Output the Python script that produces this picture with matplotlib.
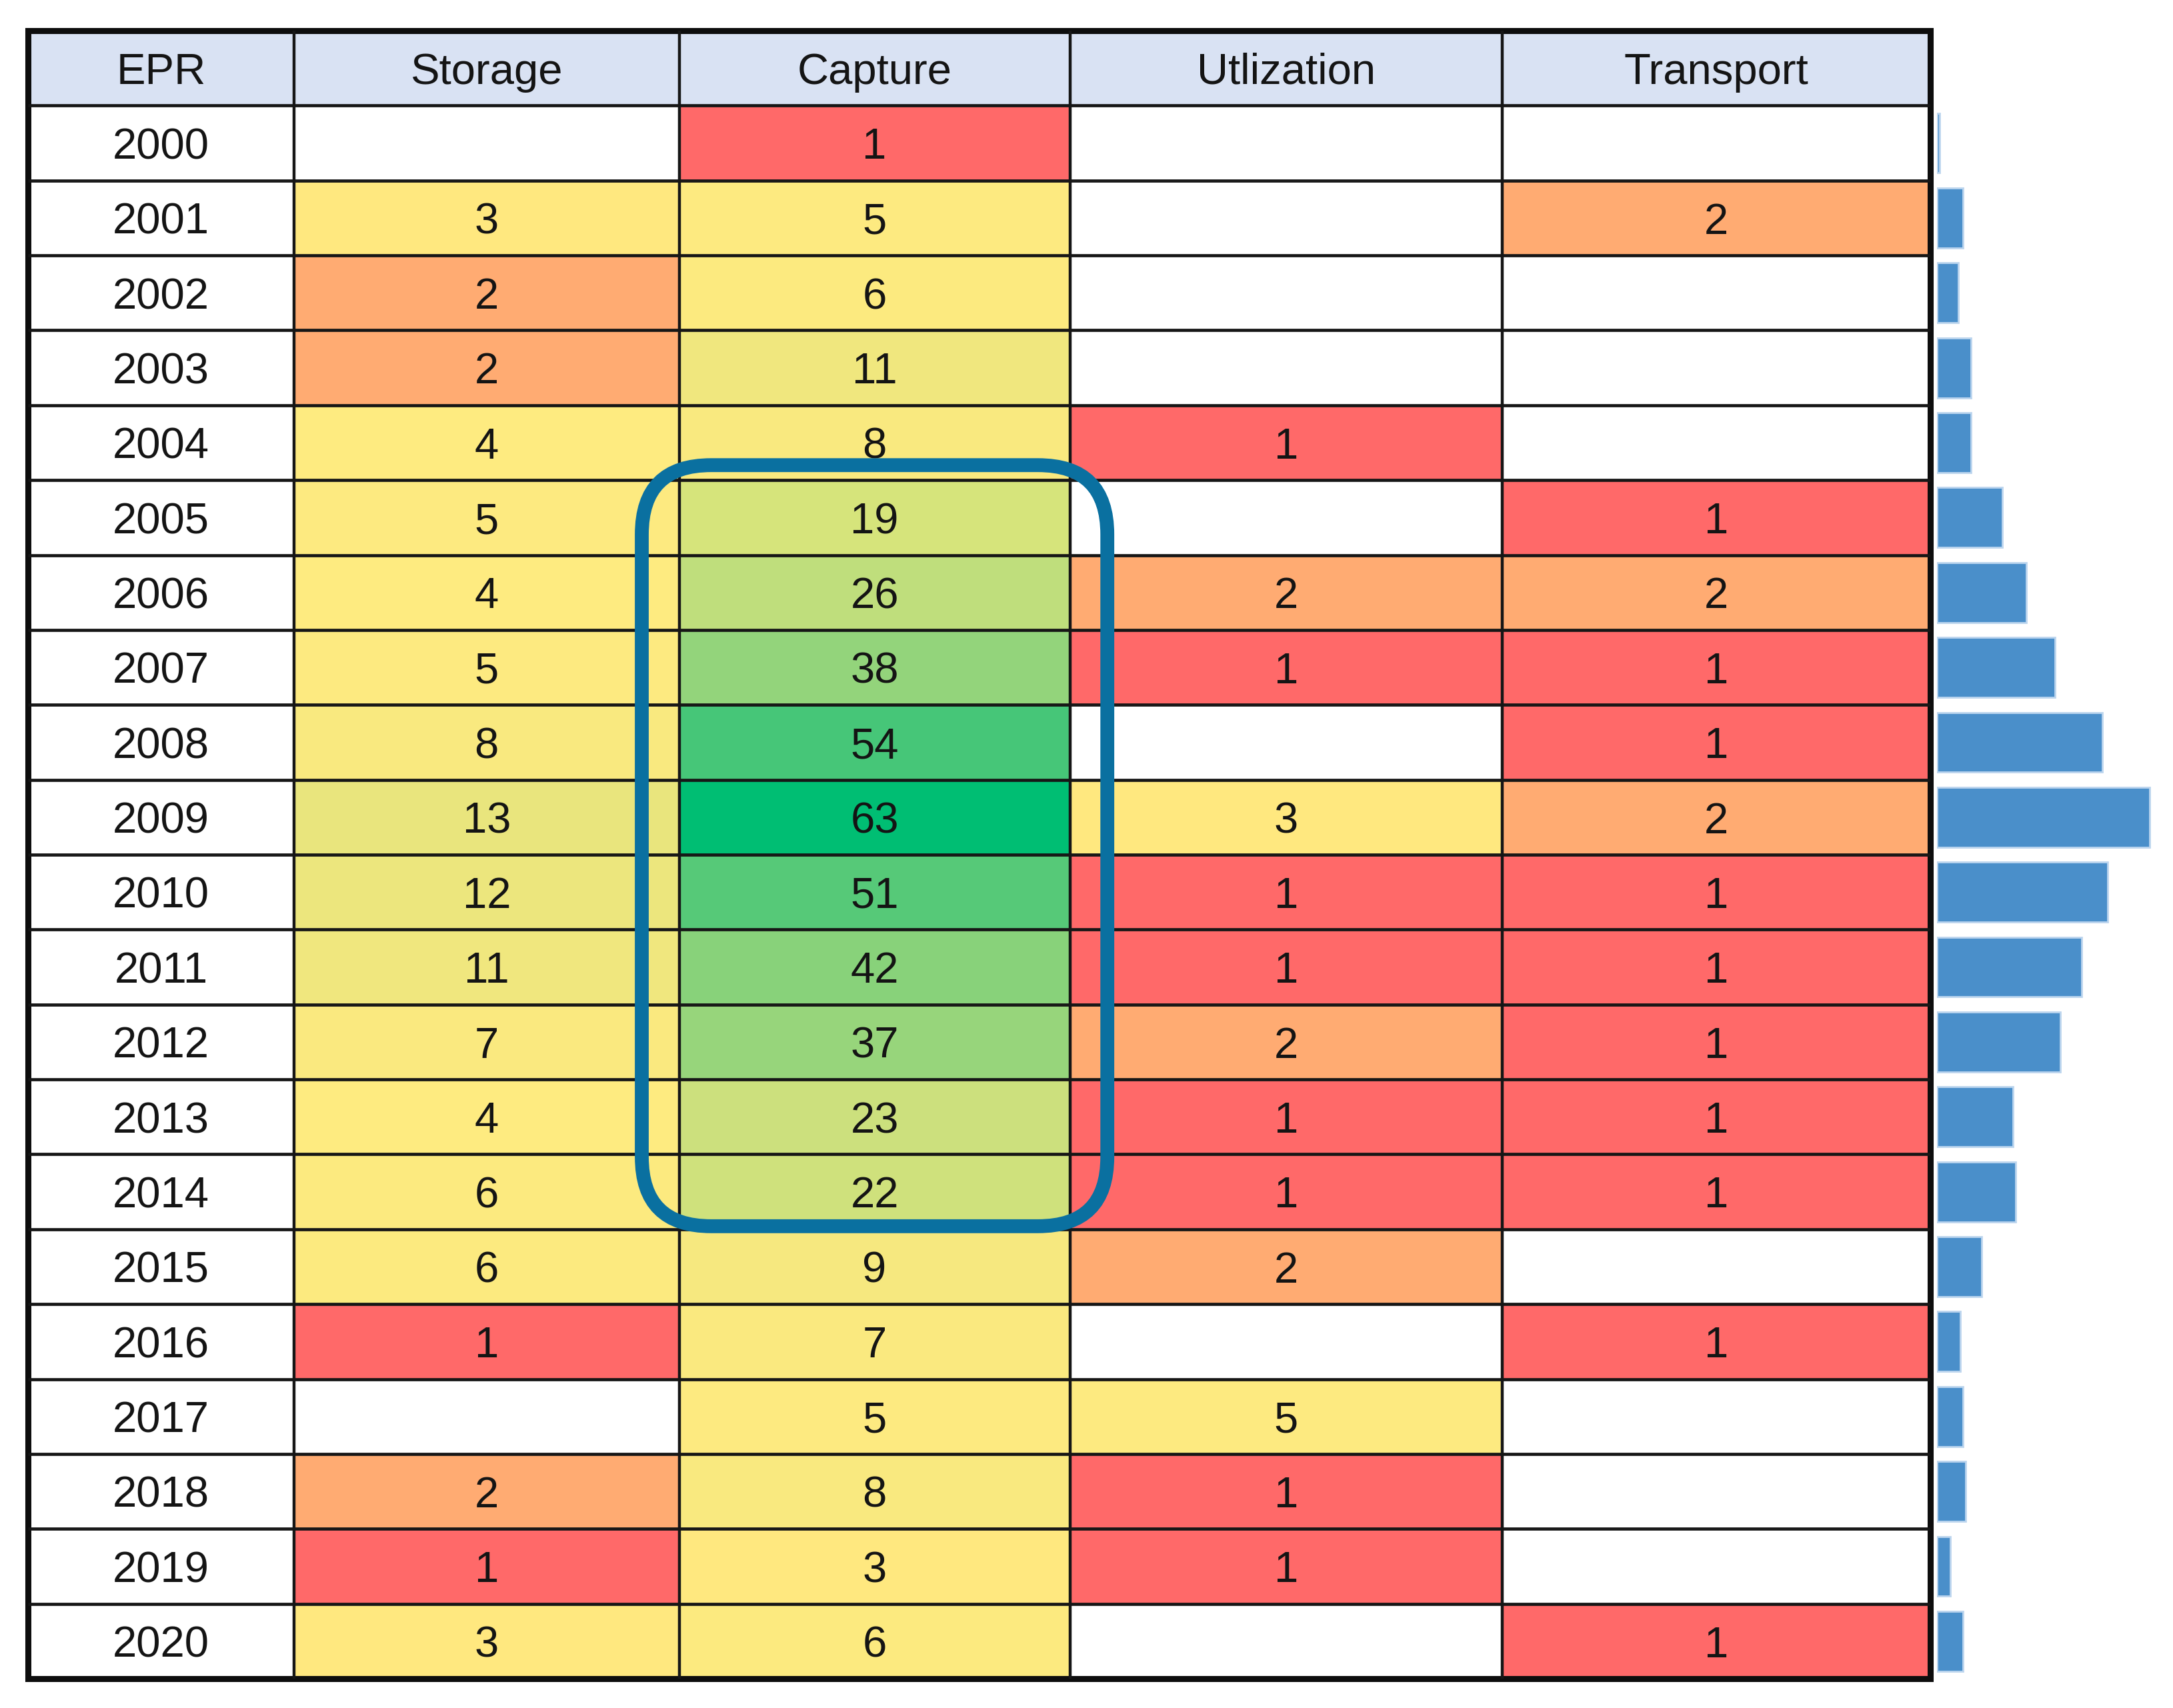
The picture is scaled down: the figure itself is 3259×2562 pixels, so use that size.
import matplotlib
matplotlib.use("Agg")
import matplotlib.pyplot as plt
from matplotlib.colors import LinearSegmentedColormap, Normalize
from matplotlib.patches import Rectangle, FancyBboxPatch

years = list(range(2000, 2021))
headers = ["EPR", "Storage", "Capture", "Utlization", "Transport"]

storage = [None, 3, 2, 2, 4, 5, 4, 5, 8, 13, 12, 11, 7, 4, 6, 6, 1, None, 2, 1, 3]
capture = [1, 5, 6, 11, 8, 19, 26, 38, 54, 63, 51, 42, 37, 23, 22, 9, 7, 5, 8, 3, 6]
utilization = [None, None, None, None, 1, None, 2, 1, None, 3, 1, 1, 2, 1, 1, 2, None, 5, 1, 1, None]
transport = [None, 2, None, None, None, 1, 2, 1, 1, 2, 1, 1, 1, 1, 1, None, 1, None, None, None, 1]

columns = [storage, capture, utilization, transport]
totals = [sum(v or 0 for v in row) for row in zip(*columns)]

plt.rcParams['font.family'] = ['Liberation Sans', 'DejaVu Sans']

# colour scale like the spreadsheet's red-yellow-green rule
vmin, vmax = 1, 63
nodes = [(1, '#FF6969'), (2, '#FFAD72'), (3, '#FFEB80'), (8, '#F9E97F'),
         (13, '#E9E57D'), (19, '#D6E47B'), (23, '#CCE07D'), (26, '#BFDE7C'),
         (38, '#93D47B'), (42, '#88D27A'), (54, '#46C678'), (63, '#00BE73')]
cmap = LinearSegmentedColormap.from_list(
    'ryg', [((v - vmin) / (vmax - vmin), c) for v, c in nodes])
norm = Normalize(vmin, vmax)

W, H = 3259, 2562
fig = plt.figure(figsize=(W / 100, H / 100), dpi=100)
tab_left, tab_right, tab_top, tab_bottom = 42, 2895, 46, 2518
ax = fig.add_axes([tab_left / W, 1 - tab_bottom / H,
                   (tab_right - tab_left) / W, (tab_bottom - tab_top) / H])

col_edges = [0, 192, 470, 752, 1064, 1373]
n_rows = len(years) + 1
ax.set_xlim(col_edges[0], col_edges[-1])
ax.set_ylim(n_rows, 0)
ax.axis('off')

text_kw = dict(ha='center', va='center', fontsize=47, color='#141414')

for c, name in enumerate(headers):
    x0, x1 = col_edges[c], col_edges[c + 1]
    ax.add_patch(Rectangle((x0, 0), x1 - x0, 1, facecolor='#D9E2F3', edgecolor='none'))
    ax.text((x0 + x1) / 2, 0.56, name, **text_kw)

for r, year in enumerate(years, start=1):
    x0, x1 = col_edges[0], col_edges[1]
    ax.add_patch(Rectangle((x0, r), x1 - x0, 1, facecolor='white', edgecolor='none'))
    ax.text((x0 + x1) / 2, r + 0.56, str(year), **text_kw)
    for c, col in enumerate(columns, start=1):
        v = col[r - 1]
        x0, x1 = col_edges[c], col_edges[c + 1]
        fc = 'white' if v is None else cmap(norm(v))
        ax.add_patch(Rectangle((x0, r), x1 - x0, 1, facecolor=fc, edgecolor='none'))
        if v is not None:
            ax.text((x0 + x1) / 2, r + 0.56, str(v), **text_kw)

ax.hlines(range(1, n_rows), col_edges[0], col_edges[-1], color='#161616', lw=3.4)
ax.vlines(col_edges[1:-1], 0, n_rows, color='#161616', lw=3.2)
ax.add_patch(Rectangle((col_edges[0], 0), col_edges[-1] - col_edges[0], n_rows,
                       facecolor='none', edgecolor='#0d0d0d', lw=6.5, clip_on=False))

# highlight around the peak capture years
px_x = (tab_right - tab_left) / (col_edges[-1] - col_edges[0])
px_y = (tab_bottom - tab_top) / n_rows
box = FancyBboxPatch((col_edges[2] - 27, 5.8), (col_edges[3] - col_edges[2]) + 54, 10.16,
                     boxstyle='round,pad=0,rounding_size=50',
                     mutation_aspect=px_x / px_y,
                     facecolor='none', edgecolor='#0A70A0', lw=15, clip_on=False, zorder=5)
ax.add_patch(box)

# data bars with the yearly totals
ax2 = fig.add_axes([2905 / W, 1 - tab_bottom / H, 354 / W, (tab_bottom - tab_top) / H])
ax2.barh([i + 1.5 for i in range(len(years))], totals, height=0.8,
         color='#4A8FCA', edgecolor='#BCD5EE', lw=2)
ax2.set_xlim(0, 89.9)
ax2.set_ylim(n_rows, 0)
ax2.axis('off')

fig.savefig('out.png', dpi=100, facecolor='white')
